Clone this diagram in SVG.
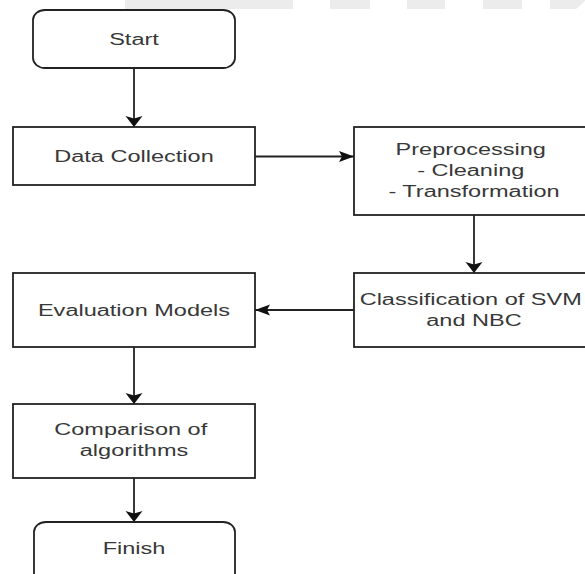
<svg xmlns="http://www.w3.org/2000/svg" width="585" height="574" viewBox="0 0 585 574">
  <defs>
    <style>
      .box { fill: #ffffff; stroke: #222222; stroke-width: 1.8; }
      .lbl { font-family: "Liberation Sans", Arial, sans-serif; font-size: 16px; fill: #383838; text-anchor: middle; }
      .edge { fill: none; stroke: #222222; stroke-width: 1.8; }
      .wm { fill: #ececec; }
    </style>
    <marker id="arrowV" markerUnits="userSpaceOnUse" markerWidth="14" markerHeight="20" refX="11" refY="0" viewBox="0 -10 14 20" orient="auto" overflow="visible">
      <path d="M0,-8.5 L11,0 L0,8.5 L2.5,0 Z" fill="#111111"/>
    </marker>
    <marker id="arrowH" markerUnits="userSpaceOnUse" markerWidth="18" markerHeight="14" refX="15" refY="0" viewBox="0 -7 18 14" orient="auto" overflow="visible">
      <path d="M0,-5.5 L15,0 L0,5.5 L3,0 Z" fill="#111111"/>
    </marker>
  </defs>

  <g id="watermark">
    <rect class="wm" x="125" y="0" width="168" height="9"/>
    <rect class="wm" x="330" y="0" width="40" height="9"/>
    <rect class="wm" x="407" y="0" width="38" height="9"/>
    <rect class="wm" x="483" y="0" width="39" height="9"/>
    <polygon class="wm" points="550,0 585,0 585,1 576,9 550,9"/>
  </g>

  <g id="connectors">
    <line class="edge" x1="134" y1="68" x2="134" y2="127" marker-end="url(#arrowV)"/>
    <line class="edge" x1="255" y1="156.5" x2="354" y2="156.5" marker-end="url(#arrowH)"/>
    <line class="edge" x1="474" y1="215" x2="474" y2="273" marker-end="url(#arrowV)"/>
    <line class="edge" x1="354" y1="310" x2="255" y2="310" marker-end="url(#arrowH)"/>
    <line class="edge" x1="134" y1="347" x2="134" y2="404" marker-end="url(#arrowV)"/>
    <line class="edge" x1="134" y1="478" x2="134" y2="522" marker-end="url(#arrowV)"/>
  </g>

  <g id="start">
    <rect class="box" x="33" y="10" width="202" height="58" rx="12" ry="10"/>
    <text class="lbl" transform="translate(134,45) scale(1.47,1)">Start</text>
  </g>

  <g id="data-collection">
    <rect class="box" x="13" y="127" width="242" height="58"/>
    <text class="lbl" transform="translate(134,162) scale(1.47,1)">Data Collection</text>
  </g>

  <g id="preprocessing">
    <rect class="box" x="354" y="127" width="240" height="88"/>
    <text class="lbl" transform="translate(474,155) scale(1.47,1)">
      <tspan x="0" y="0">Preprocessing</tspan>
      <tspan x="0" y="21">- Cleaning</tspan>
      <tspan x="0" y="42">- Transformation</tspan>
    </text>
  </g>

  <g id="classification">
    <rect class="box" x="354" y="273" width="240" height="74"/>
    <text class="lbl" transform="translate(474,305) scale(1.47,1)">
      <tspan x="0" y="0">Classification of SVM</tspan>
      <tspan x="0" y="21">and NBC</tspan>
    </text>
  </g>

  <g id="evaluation">
    <rect class="box" x="13" y="273" width="242" height="74"/>
    <text class="lbl" transform="translate(134,316) scale(1.47,1)">Evaluation Models</text>
  </g>

  <g id="comparison">
    <rect class="box" x="13" y="404" width="242" height="74"/>
    <text class="lbl" transform="translate(134,435) scale(1.47,1)">
      <tspan x="0" y="0">Comparison of</tspan>
      <tspan x="0" y="21">algorithms</tspan>
    </text>
  </g>

  <g id="finish">
    <rect class="box" x="34" y="522" width="201" height="80" rx="12" ry="10"/>
    <text class="lbl" transform="translate(134,554) scale(1.47,1)">Finish</text>
  </g>
</svg>
